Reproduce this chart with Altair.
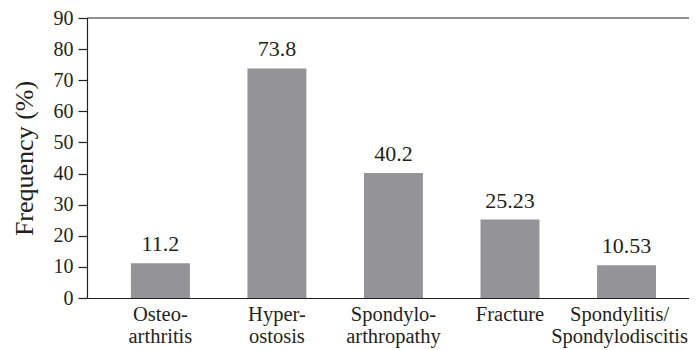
import altair as alt
import pandas as pd

categories = ["Osteo-arthritis", "Hyper-ostosis", "Spondylo-arthropathy", "Fracture", "Spondylitis/Spondylodiscitis"]
values = [11.2, 73.8, 40.2, 25.23, 10.53]
value_labels = ["11.2", "73.8", "40.2", "25.23", "10.53"]
y_ticks = [0, 10, 20, 30, 40, 50, 60, 70, 80, 90]
y_max = [90]

df = pd.DataFrame({"cat": categories, "val": values, "lab": value_labels})
df_top = pd.DataFrame({"val": y_max})

FONT = "Liberation Serif, Times New Roman, serif"
INK = "#231f20"

x = alt.X(
    "cat:N",
    sort=categories,
    scale=alt.Scale(paddingInner=0.494, paddingOuter=0.33, align=0.571),
    axis=alt.Axis(
        title=None,
        labelAngle=0,
        ticks=False,
        labelPadding=6,
        labelFont=FONT,
        labelFontSize=20.5,
        labelColor=INK,
        labelLineHeight=22,
        labelOverlap=False,
        labelOffset={"condition": {"test": "datum.value === 'Spondylitis/Spondylodiscitis'", "value": -7}, "value": 0},
        domainColor=INK,
        domainWidth=1.2,
        labelExpr="split(replace(replace(datum.label, '-', '-|'), '/', '/|'), '|')",
    ),
)
y_axis = alt.Axis(
    values=y_ticks,
    tickCount=10,
    labelOverlap=False,
    title="Frequency (%)",
    titleFont=FONT,
    titleFontSize=26,
    titleFontWeight="normal",
    titleColor=INK,
    titleX=-55,
    titleY=140,
    titleAngle=-90,
    titleAlign="center",
    titleBaseline="alphabetic",
    labelFont=FONT,
    labelFontSize=20,
    labelColor=INK,
    labelPadding=5,
    tickSize=9,
    tickColor=INK,
    tickWidth=1.2,
    domainColor=INK,
    domainWidth=1.2,
    grid=False,
)
y_scale = alt.Scale(domain=[0, 90], nice=False)
y = alt.Y("val:Q", scale=y_scale, axis=y_axis)

base = alt.Chart(df).encode(x=x, y=y)
bars = base.mark_bar(color="#949398")
text = base.mark_text(
    font=FONT, fontSize=22, color=INK, baseline="alphabetic", dy=-12
).encode(text="lab:N")
top = alt.Chart(df_top).mark_rule(color=INK, strokeWidth=1.2).encode(
    y=alt.Y("val:Q", scale=y_scale, axis=y_axis)
)

chart = (
    alt.layer(bars, text, top)
    .properties(
        width=602,
        height=280,
        padding={"left": 79, "top": 10, "right": 0, "bottom": 52},
        autosize=alt.AutoSizeParams(type="none"),
    )
    .configure_view(stroke=None)
)

chart.save("out.html", embed_options={"renderer": "svg", "actions": False})
